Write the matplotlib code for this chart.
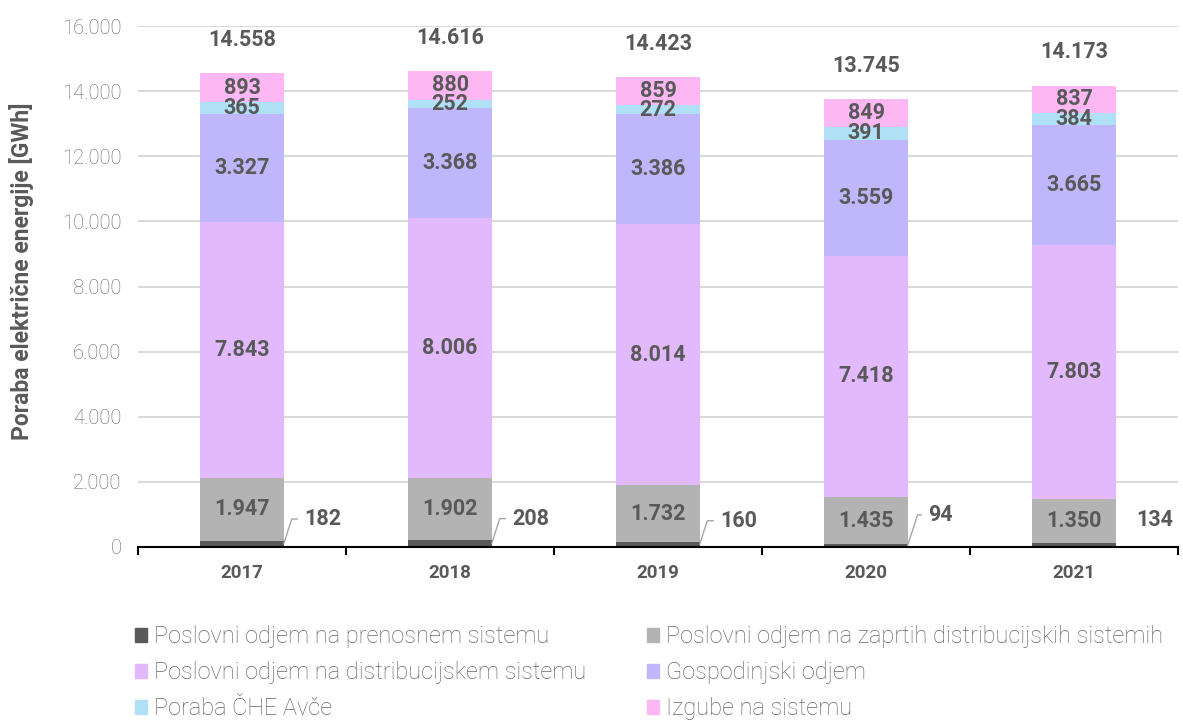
import matplotlib
matplotlib.use('Agg')
import matplotlib.pyplot as plt
from matplotlib.patches import Patch
import numpy as np

# ----------------------------
# Data
# ----------------------------
years = ['2017', '2018', '2019', '2020', '2021']
prenosni = [182, 208, 160, 94, 134]
zaprti = [1947, 1902, 1732, 1435, 1350]
distribucijski = [7843, 8006, 8014, 7418, 7803]
gospodinjski = [3327, 3368, 3386, 3559, 3665]
che_avce = [365, 252, 272, 391, 384]
izgube = [893, 880, 859, 849, 837]
totals = [14558, 14616, 14423, 13745, 14173]

series_names = ['Poslovni odjem na prenosnem sistemu',
                'Poslovni odjem na zaprtih distribucijskih sistemih',
                'Poslovni odjem na distribucijskem sistemu',
                'Gospodinjski odjem',
                'Poraba ČHE Avče',
                'Izgube na sistemu']
series = [prenosni, zaprti, distribucijski, gospodinjski, che_avce, izgube]
colors_ = ['#595959', '#b3b3b3', '#e2b9fc', '#c0b6fc', '#b0e0f6', '#fdb7f2']

# small-value label of the bottom series sits beside the bar
side_offset_y = [18, 18, 17, 22, 18]
leader = [True, True, True, True, False]

TXT = '#595959'
plt.rcParams['font.family'] = ['Roboto', 'DejaVu Sans']


def fmt(v):
    return f"{v:,}".replace(',', '.')


fig = plt.figure(figsize=(11.83, 7.24), dpi=100)
ax = fig.add_axes([0.1167, 0.2445, 0.8791, 0.7195])

x = np.arange(len(years))
width = 0.4
bottom = np.zeros(len(years))
for i, (vals, col) in enumerate(zip(series, colors_)):
    vals = np.array(vals)
    ax.bar(x, vals, width, bottom=bottom, color=col, zorder=2)
    if i > 0:
        for xi, b, v in zip(x, bottom, vals):
            ax.text(xi, b + v / 2, fmt(v), ha='center', va='center',
                    fontsize=15.5, fontweight='bold', color=TXT, zorder=3)
    else:
        for j, (xi, v) in enumerate(zip(x, vals)):
            props = None
            if leader[j]:
                props = dict(arrowstyle='-', color='#a6a6a6', lw=1,
                             connectionstyle='angle,angleA=0,angleB=72,rad=0',
                             relpos=(0, 0.5), shrinkA=3, shrinkB=0)
            ax.annotate(fmt(v), xy=(xi + width / 2, v / 2),
                        xytext=(15, side_offset_y[j]), textcoords='offset points',
                        ha='left', va='center', fontsize=15.5, fontweight='bold',
                        color=TXT, arrowprops=props, zorder=3)
    bottom = bottom + vals

for xi, t in zip(x, totals):
    ax.annotate(fmt(t), xy=(xi, t), xytext=(0, 24), textcoords='offset points',
                ha='center', va='center', fontsize=15.5, fontweight='bold', color=TXT)

ax.set_xlim(-0.5, len(years) - 0.5)
ax.set_ylim(0, 16000)
ax.set_yticks(np.arange(0, 16001, 2000))
ax.set_yticklabels([fmt(v) for v in range(0, 16001, 2000)])
ax.tick_params(axis='y', length=0, labelsize=14.5, labelcolor='#666666', pad=12)
for lbl in ax.get_yticklabels():
    lbl.set_fontweight('light')
ax.yaxis.grid(True, color='#d9d9d9', lw=1.5, zorder=0)
ax.set_axisbelow(True)

ax.set_xticks(np.arange(-0.5, len(years), 1))
ax.set_xticklabels([])
ax.set_xticks(x, minor=True)
ax.set_xticklabels(years, minor=True, fontsize=13.5, fontweight='bold', color=TXT)
ax.tick_params(axis='x', which='major', length=6, width=1.5, direction='out')
ax.tick_params(axis='x', which='minor', length=0, pad=12)

for s in ['top', 'right', 'left']:
    ax.spines[s].set_visible(False)
ax.spines['bottom'].set_linewidth(1.5)

ax.set_ylabel('Poraba električne energije [GWh]', fontsize=16.5, fontweight='bold',
              color=TXT)
ax.yaxis.set_label_coords(-0.1, 0.53)

handles = [Patch(color=c) for c in colors_]
order = [0, 2, 4, 1, 3, 5]
leg = fig.legend([handles[k] for k in order], [series_names[k] for k in order],
                 ncol=2, loc='upper left', bbox_to_anchor=(0.110, 0.143),
                 frameon=False, fontsize=17, handlelength=0.5, handleheight=0.5,
                 handletextpad=0.3, columnspacing=2.6, labelspacing=0.55,
                 borderaxespad=0, borderpad=0.2)
for t in leg.get_texts():
    t.set_color('#666666')
    t.set_fontweight('light')

fig.savefig('out.png', dpi=100)
